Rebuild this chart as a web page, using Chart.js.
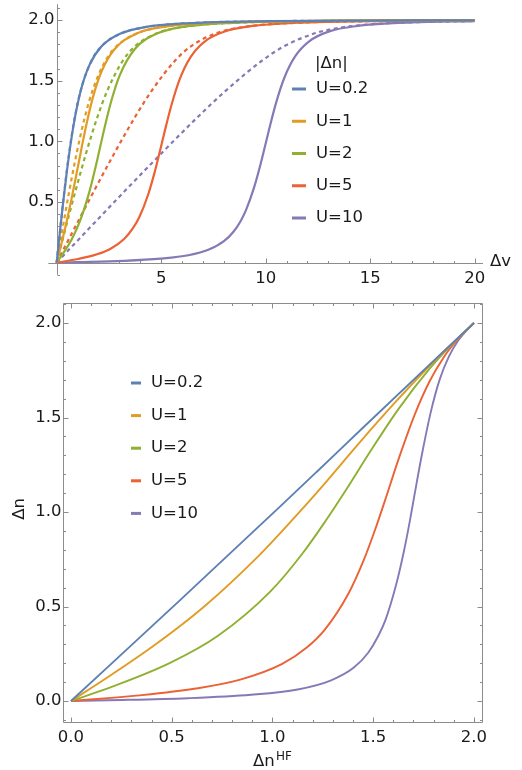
<!DOCTYPE html>
<html>
<head>
<meta charset="utf-8">
<script src="https://cdn.jsdelivr.net/npm/chart.js@4/dist/chart.umd.min.js"></script>
<style>
  html, body { margin: 0; padding: 0; background: #fff; }
  #wrap { position: relative; width: 522px; height: 770px; }
  canvas { position: absolute; left: 0; }
  #topChart { top: 0; }
  #bottomChart { top: 292px; }
</style>
</head>
<body>
<div id="wrap">
  <canvas id="topChart" width="522" height="292"></canvas>
  <canvas id="bottomChart" width="522" height="478"></canvas>
</div>
<script>
// ── data: series labels ─────────────────────────────────────────────────────
const U_LABELS = ['U=0.2', 'U=1', 'U=2', 'U=5', 'U=10'];

// ── top panel, solid curves: exact |Δn| vs Δv ───────────────────────────────
const DV_EXACT_U02 = [0, 0.192, 0.335, 0.490, 0.713, 0.891, 1.190, 1.579, 2.161, 3.029, 4.279, 6.116, 10.15, 20];
const DN_EXACT_U02 = [0, 0.311, 0.531, 0.754, 1.031, 1.212, 1.442, 1.632, 1.785, 1.886, 1.943, 1.972, 1.990, 1.9975];
const DV_EXACT_U1 = [0, 0.202, 0.429, 0.679, 0.995, 1.224, 1.414, 1.734, 2.141, 2.739, 3.830, 5.388, 7.928, 12.96, 20];
const DN_EXACT_U1 = [0, 0.139, 0.303, 0.499, 0.771, 0.973, 1.131, 1.362, 1.573, 1.753, 1.889, 1.950, 1.980, 1.993, 1.997];
const DV_EXACT_U2 = [0, 0.307, 0.747, 1.118, 1.558, 1.853, 2.083, 2.278, 2.606, 3.022, 3.742, 4.830, 6.388, 8.928, 12.95, 20];
const DN_EXACT_U2 = [0, 0.076, 0.202, 0.344, 0.579, 0.782, 0.955, 1.102, 1.328, 1.546, 1.761, 1.890, 1.951, 1.980, 1.992, 1.997];
const DV_EXACT_U5 = [0, 1.020, 1.876, 2.562, 3.228, 3.652, 3.957, 4.387, 4.693, 4.934, 5.137, 5.477, 5.903, 6.399, 7.079, 8.042, 9.388, 11.93, 14.95, 20];
const DN_EXACT_U5 = [0, 0.030, 0.066, 0.113, 0.195, 0.284, 0.376, 0.566, 0.748, 0.914, 1.059, 1.289, 1.518, 1.692, 1.822, 1.905, 1.951, 1.980, 1.990, 1.996];
const DV_EXACT_U10 = [0, 1.005, 3.210, 4.969, 6.303, 7.283, 8.004, 8.471, 8.806, 9.064, 9.447, 9.731, 9.960, 10.156, 10.488, 10.909, 11.402, 12.081, 13.043, 14.389, 16.928, 20];
const DN_EXACT_U10 = [0, 0.004, 0.015, 0.033, 0.061, 0.108, 0.177, 0.257, 0.344, 0.435, 0.620, 0.795, 0.953, 1.091, 1.311, 1.530, 1.698, 1.824, 1.906, 1.951, 1.980, 1.990];

// ── top panel, dashed curves: Hartree-Fock |Δn| vs Δv ───────────────────────
const DV_HF_U02 = [0, 0.120, 0.239, 0.358, 0.589, 0.870, 1.141, 1.666, 2.179, 3.190, 4.194, 5.196, 7.198, 10.20, 20];
const DN_HF_U02 = [0, 0.199, 0.392, 0.575, 0.894, 1.200, 1.414, 1.664, 1.789, 1.897, 1.940, 1.961, 1.980, 1.990, 1.9975];
const DV_HF_U1 = [0, 0.200, 0.396, 0.587, 0.947, 1.350, 1.707, 2.332, 2.894, 3.949, 4.970, 5.981, 7.990, 10.995, 20];
const DN_HF_U1 = [0, 0.199, 0.392, 0.575, 0.894, 1.200, 1.414, 1.664, 1.789, 1.897, 1.940, 1.961, 1.980, 1.990, 1.997];
const DV_HF_U2 = [0, 0.299, 0.592, 0.875, 1.394, 1.950, 2.414, 3.164, 3.789, 4.897, 5.940, 6.961, 8.980, 11.99, 20];
const DN_HF_U2 = [0, 0.199, 0.392, 0.575, 0.894, 1.200, 1.414, 1.664, 1.789, 1.897, 1.940, 1.961, 1.980, 1.990, 1.997];
const DV_HF_U5 = [0, 0.598, 1.181, 1.737, 2.736, 3.750, 4.536, 5.660, 6.472, 7.743, 8.851, 9.903, 11.95, 14.975, 20];
const DN_HF_U5 = [0, 0.199, 0.392, 0.575, 0.894, 1.200, 1.414, 1.664, 1.789, 1.897, 1.940, 1.961, 1.980, 1.990, 1.996];
const DV_HF_U10 = [0, 1.095, 2.161, 3.174, 4.972, 6.750, 8.071, 9.820, 10.944, 12.487, 13.70, 14.806, 15.864, 16.90, 17.923, 20];
const DN_HF_U10 = [0, 0.199, 0.392, 0.575, 0.894, 1.200, 1.414, 1.664, 1.789, 1.897, 1.940, 1.961, 1.973, 1.980, 1.985, 1.990];

// ── bottom panel: exact Δn vs Δn^HF ─────────────────────────────────────────
const HF_U02 = [0, 0.539, 1.040, 1.219, 1.445, 1.785, 2];
const EX_U02 = [0, 0.531, 1.031, 1.212, 1.442, 1.785, 2];
const HF_U1 = [0, 0.201, 0.424, 0.660, 0.934, 1.111, 1.243, 1.428, 1.603, 1.761, 1.890, 1.951, 2];
const EX_U1 = [0, 0.139, 0.303, 0.499, 0.771, 0.973, 1.131, 1.362, 1.573, 1.753, 1.889, 1.950, 2];
const HF_U2 = [0, 0.205, 0.492, 0.728, 0.989, 1.150, 1.265, 1.356, 1.490, 1.626, 1.782, 1.893, 2];
const EX_U2 = [0, 0.076, 0.202, 0.344, 0.579, 0.782, 0.955, 1.102, 1.328, 1.546, 1.761, 1.890, 2];
const HF_U5 = [0, 0.339, 0.620, 0.840, 1.046, 1.172, 1.259, 1.376, 1.454, 1.512, 1.558, 1.629, 1.707, 1.780, 1.852, 1.912, 1.953, 2];
const EX_U5 = [0, 0.030, 0.066, 0.113, 0.195, 0.284, 0.376, 0.566, 0.748, 0.914, 1.059, 1.289, 1.518, 1.692, 1.822, 1.905, 1.951, 2];
const HF_U10 = [0, 0.183, 0.581, 0.894, 1.125, 1.288, 1.404, 1.476, 1.525, 1.563, 1.615, 1.653, 1.682, 1.705, 1.743, 1.786, 1.829, 1.876, 1.921, 1.955, 2];
const EX_U10 = [0, 0.004, 0.015, 0.033, 0.061, 0.108, 0.177, 0.257, 0.344, 0.435, 0.620, 0.795, 0.953, 1.091, 1.311, 1.530, 1.698, 1.824, 1.906, 1.951, 2];

// ── tick labels ─────────────────────────────────────────────────────────────
const TOP_X_TICKS = [5, 10, 15, 20];
const TOP_Y_TICKS = [0.5, 1.0, 1.5, 2.0];
const BOT_X_TICKS = [0, 0.5, 1.0, 1.5, 2.0];
const BOT_Y_TICKS = [0, 0.5, 1.0, 1.5, 2.0];

// ── styling ─────────────────────────────────────────────────────────────────
const COLORS = ['#5e81b5', '#e19c24', '#8fb032', '#eb6235', '#8778b6'];
const AXIS_COLOR = '#8c8c8c';
const TEXT_COLOR = '#1a1a1a';
const FONT_FAMILY = '"DejaVu Sans", sans-serif';
const FONT = '16.5px ' + FONT_FAMILY;

const pts = (xs, ys) => xs.map((x, i) => ({ x, y: ys[i] }));
const px = v => Math.round(v) + 0.5;

const topExact = [[DV_EXACT_U02, DN_EXACT_U02], [DV_EXACT_U1, DN_EXACT_U1], [DV_EXACT_U2, DN_EXACT_U2],
                  [DV_EXACT_U5, DN_EXACT_U5], [DV_EXACT_U10, DN_EXACT_U10]];
const topHF = [[DV_HF_U02, DN_HF_U02], [DV_HF_U1, DN_HF_U1], [DV_HF_U2, DN_HF_U2],
               [DV_HF_U5, DN_HF_U5], [DV_HF_U10, DN_HF_U10]];
const bottom = [[HF_U02, EX_U02], [HF_U1, EX_U1], [HF_U2, EX_U2], [HF_U5, EX_U5], [HF_U10, EX_U10]];

function lineDs(xs, ys, color, width, dash) {
  return {
    data: pts(xs, ys),
    borderColor: color,
    borderWidth: width,
    borderDash: dash || [],
    pointRadius: 0,
    fill: false,
    cubicInterpolationMode: 'monotone',
  };
}

function range(from, to, step) {
  const out = [];
  for (let v = from; v <= to + 1e-9; v += step) out.push(Math.round(v * 1000) / 1000);
  return out;
}

// ── top panel: Mathematica-style crossing axes ──────────────────────────────
const topAxes = {
  id: 'topAxes',
  beforeDatasetsDraw(chart) {
    const { ctx, chartArea: a, scales: { x, y } } = chart;
    const x0 = px(x.getPixelForValue(0)), y0 = px(y.getPixelForValue(0));
    ctx.save();
    ctx.strokeStyle = AXIS_COLOR;
    ctx.lineWidth = 1;
    ctx.beginPath();
    ctx.moveTo(a.left, y0); ctx.lineTo(a.right, y0);
    ctx.moveTo(x0, a.top); ctx.lineTo(x0, a.bottom);
    range(1, 20, 1).forEach(v => {
      const len = TOP_X_TICKS.includes(v) ? 5 : 2.5;
      const p = px(x.getPixelForValue(v));
      ctx.moveTo(p, y0); ctx.lineTo(p, y0 - len);
    });
    range(-0.1, 2.1, 0.1).forEach(v => {
      if (Math.abs(v) < 1e-6) return;
      const len = TOP_Y_TICKS.some(t => Math.abs(t - v) < 1e-6) ? 5 : 2.5;
      const p = px(y.getPixelForValue(v));
      ctx.moveTo(x0, p); ctx.lineTo(x0 + len, p);
    });
    ctx.stroke();

    ctx.fillStyle = TEXT_COLOR;
    ctx.font = FONT;
    ctx.textAlign = 'center';
    ctx.textBaseline = 'middle';
    TOP_X_TICKS.forEach(v => ctx.fillText(String(v), x.getPixelForValue(v), y0 + 15));
    ctx.textAlign = 'right';
    TOP_Y_TICKS.forEach(v => ctx.fillText(v.toFixed(1), x0 - 3, y.getPixelForValue(v)));
    ctx.textAlign = 'left';
    ctx.fillText('Δv', a.right + 7, y0 - 2);

    // legend
    ctx.fillText('|Δn|', 315, 64);
    U_LABELS.forEach((lab, i) => {
      const yy = 89 + i * 32.25;
      ctx.fillStyle = COLORS[i];
      ctx.fillRect(292, yy - 1.5, 14, 3);
      ctx.fillStyle = TEXT_COLOR;
      ctx.fillText(lab, 316, yy);
    });
    ctx.restore();
  }
};

// ── bottom panel: framed plot ───────────────────────────────────────────────
const bottomFrame = {
  id: 'bottomFrame',
  beforeDatasetsDraw(chart) {
    const { ctx, chartArea: a, scales: { x, y } } = chart;
    const L = px(a.left), R = px(a.right), T = px(a.top), B = px(a.bottom);
    ctx.save();
    ctx.strokeStyle = AXIS_COLOR;
    ctx.lineWidth = 1;
    ctx.beginPath();
    ctx.rect(L, T, R - L, B - T);
    range(0, 2, 0.1).forEach(v => {
      const len = BOT_X_TICKS.some(t => Math.abs(t - v) < 1e-6) ? 5 : 2.5;
      const p = px(x.getPixelForValue(v));
      ctx.moveTo(p, B); ctx.lineTo(p, B - len);
      ctx.moveTo(p, T); ctx.lineTo(p, T + len);
    });
    range(-0.1, 2.1, 0.1).forEach(v => {
      const len = BOT_Y_TICKS.some(t => Math.abs(t - v) < 1e-6) ? 5 : 2.5;
      const p = px(y.getPixelForValue(v));
      ctx.moveTo(L, p); ctx.lineTo(L + len, p);
      ctx.moveTo(R, p); ctx.lineTo(R - len, p);
    });
    ctx.stroke();

    ctx.fillStyle = TEXT_COLOR;
    ctx.font = FONT;
    ctx.textAlign = 'center';
    ctx.textBaseline = 'middle';
    BOT_X_TICKS.forEach(v => ctx.fillText(v.toFixed(1), x.getPixelForValue(v), B + 15));
    ctx.textAlign = 'right';
    BOT_Y_TICKS.forEach(v => ctx.fillText(v.toFixed(1), L - 2, y.getPixelForValue(v)));

    // axis titles
    ctx.textAlign = 'left';
    ctx.textBaseline = 'alphabetic';
    ctx.fillText('Δn', 253, 474);
    ctx.font = '12px ' + FONT_FAMILY;
    ctx.fillText('HF', 276, 468);
    ctx.font = FONT;
    ctx.save();
    ctx.translate(20, 217);
    ctx.rotate(-Math.PI / 2);
    ctx.textAlign = 'center';
    ctx.textBaseline = 'middle';
    ctx.fillText('Δn', 0, 0);
    ctx.restore();

    // legend
    ctx.textAlign = 'left';
    ctx.textBaseline = 'middle';
    U_LABELS.forEach((lab, i) => {
      const yy = 91 + i * 32.6;
      ctx.fillStyle = COLORS[i];
      ctx.fillRect(131, yy - 1.5, 10, 3);
      ctx.fillStyle = TEXT_COLOR;
      ctx.fillText(lab, 151, yy);
    });
    ctx.restore();
  }
};

const hiddenScale = (min, max) => ({ type: 'linear', min, max, display: false });

new Chart(document.getElementById('topChart').getContext('2d'), {
  type: 'line',
  data: {
    datasets: [
      ...topExact.map(([xs, ys], i) => lineDs(xs, ys, COLORS[i], 2.2)),
      ...topHF.map(([xs, ys], i) => lineDs(xs, ys, COLORS[i], 2.2, [4, 3.5])),
    ]
  },
  options: {
    responsive: false,
    animation: false,
    layout: { padding: { left: 48.3, right: 39, top: 4.2, bottom: 17.2 } },
    scales: { x: hiddenScale(-0.4, 20.4), y: hiddenScale(-0.1, 2.13) },
    plugins: { legend: { display: false }, tooltip: { enabled: false } }
  },
  plugins: [topAxes]
});

new Chart(document.getElementById('bottomChart').getContext('2d'), {
  type: 'line',
  data: {
    datasets: bottom.map(([xs, ys], i) => lineDs(xs, ys, COLORS[i], 1.9))
  },
  options: {
    responsive: false,
    animation: false,
    layout: { padding: { left: 62.7, right: 40, top: 11, bottom: 48 } },
    scales: { x: hiddenScale(-0.041, 2.04), y: hiddenScale(-0.111, 2.106) },
    plugins: { legend: { display: false }, tooltip: { enabled: false } }
  },
  plugins: [bottomFrame]
});
</script>
</body>
</html>
